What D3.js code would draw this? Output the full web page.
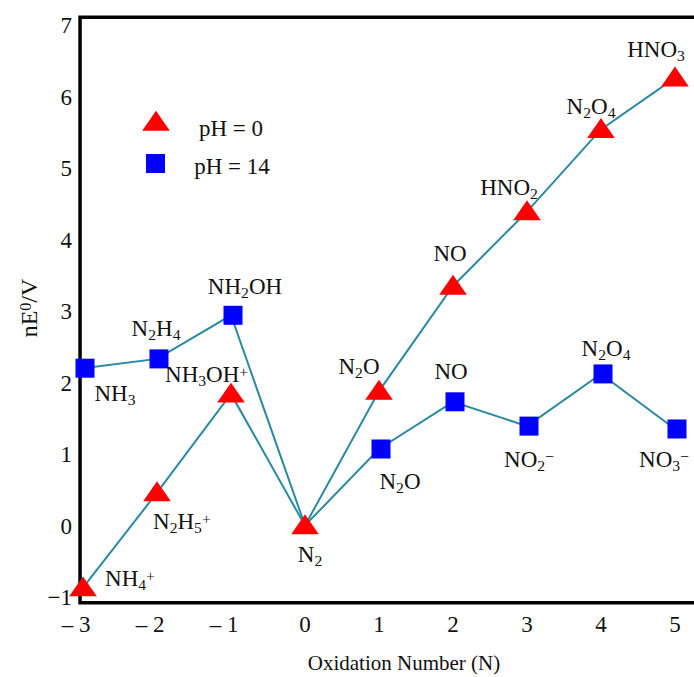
<!DOCTYPE html>
<html>
<head>
<meta charset="utf-8">
<script src="https://cdn.jsdelivr.net/npm/d3@7"></script>
<style>
  body { margin: 0; background: #fff; }
  text { font-family: "Liberation Serif", "DejaVu Serif", serif; fill: #111; }
</style>
</head>
<body>
<div id="chart"></div>
<script>
// data
const oxidation = [-3, -2, -1, 0, 1, 2, 3, 4, 5];
const acidValues = [-0.87, 0.46, 1.84, 0, 1.88, 3.35, 4.39, 5.54, 6.26];   // pH = 0
const baseValues = [2.2, 2.33, 2.94, 0, 1.07, 1.73, 1.39, 2.12, 1.35];     // pH = 14
// "_" = subscript next char, "^" = superscript next char
const acidNames = ["NH_4^+", "N_2H_5^+", "NH_3OH^+", "N_2", "N_2O", "NO", "HNO_2", "N_2O_4", "HNO_3"];
const baseNames = ["NH_3", "N_2H_4", "NH_2OH", "", "N_2O", "NO", "NO_2 ^\u2212", "N_2O_4", "NO_3 ^\u2212"];
const xTicks = [-3, -2, -1, 0, 1, 2, 3, 4, 5];
const yTicks = [-1, 0, 1, 2, 3, 4, 5, 6, 7];

// label offsets in px from each marker [dx, dy, anchor]
const acidLabelPos = [[22, -2, "start"], [-4, 36, "start"], [-66, -12, "start"], [5, 36, "middle"],
  [-20, -17, "middle"], [-3, -25, "middle"], [-18, -17, "middle"], [-10, -15, "middle"], [-19, -21, "middle"]];
const baseLabelPos = [[32, 33, "middle"], [-1, -23, "middle"], [14, -21, "middle"], [0, 0, "middle"],
  [21, 40, "middle"], [-2, -23, "middle"], [2, 41, "middle"], [5, -18, "middle"], [-11, 38, "middle"]];

const width = 694, height = 677;
const x = d3.scaleLinear().domain([-3, 5]).range([83, 675]);
const y = d3.scaleLinear().domain([-1, 7]).range([597, 25]);
const lineColor = "#2a8aa2";

const svg = d3.select("#chart").append("svg")
  .attr("width", width).attr("height", height);

function chem(sel, s, size) {
  const t = sel.append("text").style("font-size", size + "px");
  for (let i = 0; i < s.length; i++) {
    const c = s[i];
    if (c === "_" || c === "^") {
      t.append("tspan").attr("baseline-shift", c === "_" ? "-22%" : "32%")
        .style("font-size", (size * 0.68) + "px").text(s[i + 1]);
      i++;
    } else if (c === " ") {
      continue;
    } else {
      t.append("tspan").text(c);
    }
  }
  return t;
}

const lineGen = d3.line().x(d => x(d[0])).y(d => y(d[1]));
const acidPts = oxidation.map((o, i) => [o, acidValues[i]]);
const basePts = oxidation.map((o, i) => [o, baseValues[i]]);

svg.append("path").datum(basePts).attr("d", lineGen)
  .attr("fill", "none").attr("stroke", lineColor).attr("stroke-width", 2);
svg.append("path").datum(acidPts).attr("d", lineGen)
  .attr("fill", "none").attr("stroke", lineColor).attr("stroke-width", 2);

// frame: left, top, bottom (right side runs off the picture)
const x0 = x(-3.04), yTop = y(7.11), yBot = y(-1.08);
svg.append("path")
  .attr("d", `M${width + 5},${yTop}H${x0}V${yBot}H${width + 5}`)
  .attr("fill", "none").attr("stroke", "#000").attr("stroke-width", 3.5);

// N2 square is hidden in the original (shared point with pH = 0)
const sq = 19;
svg.selectAll("rect.pt").data(basePts.filter((d, i) => baseNames[i])).enter().append("rect")
  .attr("x", d => x(d[0]) - sq / 2 + 2).attr("y", d => y(d[1]) - sq / 2)
  .attr("width", sq).attr("height", sq).attr("fill", "#0000ff");

const tri = d3.symbol().type(d3.symbolTriangle).size(230);
svg.selectAll("path.pt").data(acidPts).enter().append("path")
  .attr("d", tri)
  .attr("transform", d => `translate(${x(d[0])},${y(d[1]) + 2}) scale(1.2,1)`)
  .attr("fill", "#ff0000");

// species labels
acidPts.forEach((d, i) => {
  const p = acidLabelPos[i];
  chem(svg, acidNames[i], 23).attr("x", x(d[0]) + p[0]).attr("y", y(d[1]) + p[1]).attr("text-anchor", p[2]);
});
basePts.forEach((d, i) => {
  if (!baseNames[i]) return;
  const p = baseLabelPos[i];
  chem(svg, baseNames[i], 23).attr("x", x(d[0]) + p[0]).attr("y", y(d[1]) + p[1]).attr("text-anchor", p[2]);
});

// tick labels
svg.selectAll("text.yt").data(yTicks).enter().append("text")
  .attr("x", 72).attr("y", d => y(d) + 8)
  .attr("text-anchor", "end").style("font-size", "23px")
  .text(d => d < 0 ? "\u2212" + Math.abs(d) : d);
svg.selectAll("text.xt").data(xTicks).enter().append("text")
  .attr("x", d => x(d) - (d < 0 ? 7 : 0)).attr("y", 632)
  .attr("text-anchor", "middle").style("font-size", "23px")
  .text(d => d < 0 ? "\u2013 " + Math.abs(d) : d);

// axis titles
svg.append("text").attr("x", 404).attr("y", 670).attr("text-anchor", "middle")
  .style("font-size", "21px").text("Oxidation Number (N)");
const yt = svg.append("text").attr("transform", "translate(37,308) rotate(-90)")
  .attr("text-anchor", "middle").style("font-size", "24px");
yt.append("tspan").text("nE");
yt.append("tspan").attr("baseline-shift", "35%").style("font-size", "16px").text("0");
yt.append("tspan").text("/V");

// legend
svg.append("path").attr("d", tri)
  .attr("transform", "translate(156,124) scale(1.2,1)").attr("fill", "#ff0000");
svg.append("rect").attr("x", 146).attr("y", 154).attr("width", sq).attr("height", sq).attr("fill", "#0000ff");
svg.append("text").attr("x", 231).attr("y", 136).attr("text-anchor", "middle")
  .style("font-size", "23px").text("pH = 0");
svg.append("text").attr("x", 232).attr("y", 174).attr("text-anchor", "middle")
  .style("font-size", "23px").text("pH = 14");
</script>
</body>
</html>
